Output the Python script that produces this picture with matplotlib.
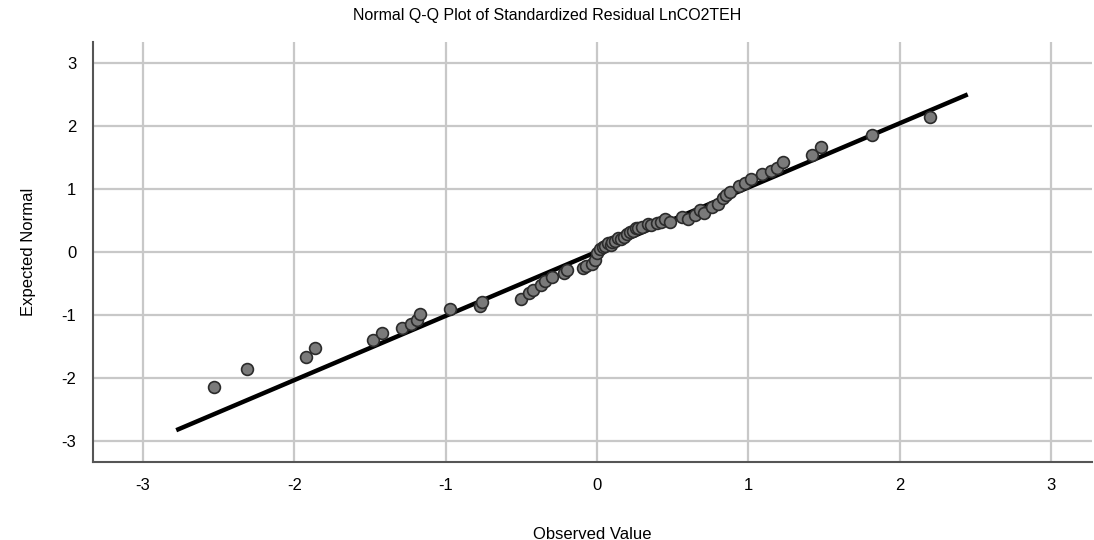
import matplotlib
matplotlib.use("Agg")
import matplotlib.pyplot as plt

# Observed standardized residuals vs expected normal quantiles
observed = [-2.53, -2.31, -1.92, -1.86, -1.48, -1.42, -1.29, -1.23, -1.19, -1.17,
            -0.97, -0.77, -0.76, -0.50, -0.45, -0.42, -0.37, -0.34, -0.30, -0.22,
            -0.20, -0.09, -0.07, -0.03, -0.01, 0.00, 0.02, 0.04, 0.05, 0.07,
            0.09, 0.10, 0.12, 0.14, 0.16, 0.18, 0.20, 0.22, 0.24, 0.26,
            0.27, 0.30, 0.34, 0.36, 0.40, 0.42, 0.45, 0.48, 0.56, 0.60,
            0.65, 0.68, 0.71, 0.76, 0.80, 0.83, 0.85, 0.88, 0.94, 0.98,
            1.02, 1.09, 1.15, 1.19, 1.23, 1.42, 1.48, 1.82, 2.20]
expected = [-2.14, -1.86, -1.67, -1.52, -1.40, -1.29, -1.21, -1.14, -1.08, -0.98,
            -0.90, -0.86, -0.79, -0.75, -0.65, -0.60, -0.52, -0.46, -0.40, -0.33,
            -0.29, -0.25, -0.22, -0.19, -0.13, -0.02, 0.04, 0.08, 0.10, 0.14,
            0.11, 0.15, 0.17, 0.22, 0.20, 0.24, 0.28, 0.32, 0.33, 0.38,
            0.38, 0.40, 0.44, 0.42, 0.46, 0.48, 0.52, 0.48, 0.55, 0.52,
            0.59, 0.66, 0.62, 0.71, 0.76, 0.86, 0.90, 0.95, 1.05, 1.10,
            1.15, 1.24, 1.28, 1.33, 1.42, 1.54, 1.67, 1.86, 2.14]

# reference line endpoints (y = x)
line_x = [-2.78, 2.45]
line_y = [-2.83, 2.50]

ticks = [-3, -2, -1, 0, 1, 2, 3]

plt.rcParams["font.family"] = ["Liberation Sans", "DejaVu Sans"]
plt.rcParams["axes.unicode_minus"] = False

fig = plt.figure(figsize=(10.94, 5.40), dpi=100)
ax = fig.add_axes([0.085, 0.145, 0.913, 0.777])

ax.plot(line_x, line_y, color="black", linewidth=3.2, solid_capstyle="butt", zorder=3)
ax.plot(observed, expected, linestyle="none", marker="o", markersize=8.5,
        markerfacecolor="#7a7a7a", markeredgecolor="#2b2b2b", markeredgewidth=1.2,
        zorder=4)

ax.set_xlim(-3.33, 3.27)
ax.set_ylim(-3.33, 3.33)
ax.set_xticks(ticks)
ax.set_yticks(ticks)
ax.grid(True, color="#c8c8c8", linewidth=1.6)
ax.set_axisbelow(True)
ax.tick_params(length=0, labelsize=12, pad=12)

for side in ("top", "right"):
    ax.spines[side].set_visible(False)
for side in ("left", "bottom"):
    ax.spines[side].set_color("#555555")
    ax.spines[side].set_linewidth(1.5)

ax.set_xlabel("Observed Value", fontsize=12, labelpad=24)
ax.set_ylabel("Expected Normal", fontsize=12, labelpad=18)
fig.suptitle("Normal Q-Q Plot of Standardized Residual LnCO2TEH", fontsize=11.5, y=0.985)

fig.savefig("out.png", dpi=100)
plt.close(fig)
